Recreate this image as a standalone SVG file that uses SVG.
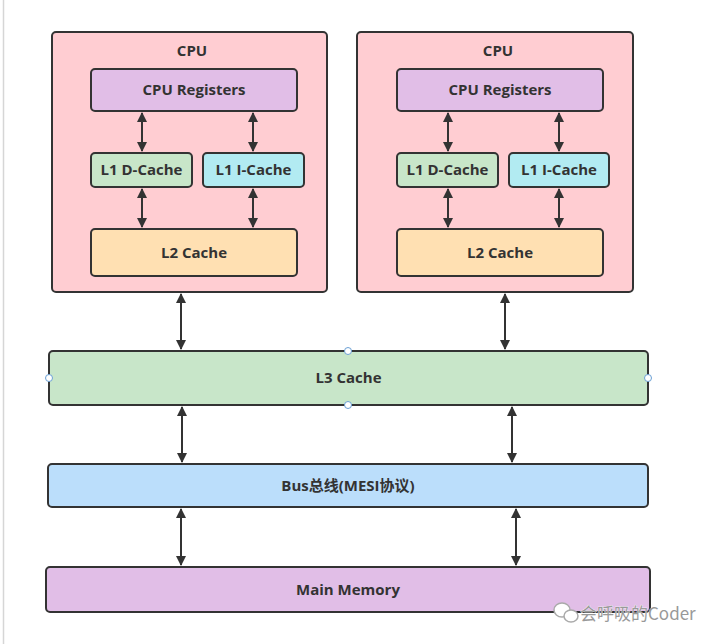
<svg xmlns="http://www.w3.org/2000/svg" width="716" height="644" viewBox="0 0 716 644">
<defs>
<marker id="ah" viewBox="0 0 10 10" refX="9" refY="5" markerWidth="5" markerHeight="5" orient="auto-start-reverse" markerUnits="strokeWidth">
<path d="M0,0 L10,5 L0,10 z" fill="#333"/>
</marker>
</defs>
<style>
.box{stroke:#333;stroke-width:2}
.t{font-family:"Open Sans","Noto Sans CJK SC",sans-serif;font-weight:bold;font-size:15px;fill:#333;text-anchor:middle;dominant-baseline:central}
.c{stroke:#333;stroke-width:2;fill:none;marker-start:url(#ah);marker-end:url(#ah)}
.h{fill:#fff;stroke:#6a9fd4;stroke-width:1}
</style>
<rect width="716" height="644" fill="#fff"/>
<line x1="3.5" y1="0" x2="3.5" y2="644" stroke="#d6d6d6" stroke-width="1.5"/>

<g id="cpu1">
<rect class="box" x="52" y="32" width="275" height="260" rx="4" fill="#ffcdd2"/>
<text class="t" x="192" y="50">CPU</text>
</g>
<g id="cpu1-registers">
<rect class="box" x="91" y="69" width="206" height="42" rx="4" fill="#e1bee7"/>
<text class="t" x="194" y="89">CPU Registers</text>
</g>
<g id="cpu1-l1d">
<rect class="box" x="91" y="153" width="101" height="34" rx="4" fill="#c8e6c9"/>
<text class="t" x="141.5" y="169">L1 D-Cache</text>
</g>
<g id="cpu1-l1i">
<rect class="box" x="203" y="153" width="101" height="34" rx="4" fill="#b2ebf2"/>
<text class="t" x="253.5" y="169">L1 I-Cache</text>
</g>
<g id="cpu1-l2">
<rect class="box" x="91" y="229" width="206" height="47" rx="4" fill="#ffe0b2"/>
<text class="t" x="194" y="252">L2 Cache</text>
</g>

<g id="cpu2">
<rect class="box" x="357" y="32" width="276" height="260" rx="4" fill="#ffcdd2"/>
<text class="t" x="498" y="50">CPU</text>
</g>
<g id="cpu2-registers">
<rect class="box" x="397" y="69" width="206" height="42" rx="4" fill="#e1bee7"/>
<text class="t" x="500" y="89">CPU Registers</text>
</g>
<g id="cpu2-l1d">
<rect class="box" x="397" y="153" width="101" height="34" rx="4" fill="#c8e6c9"/>
<text class="t" x="447.5" y="169">L1 D-Cache</text>
</g>
<g id="cpu2-l1i">
<rect class="box" x="509" y="153" width="100" height="34" rx="4" fill="#b2ebf2"/>
<text class="t" x="559" y="169">L1 I-Cache</text>
</g>
<g id="cpu2-l2">
<rect class="box" x="397" y="229" width="206" height="47" rx="4" fill="#ffe0b2"/>
<text class="t" x="500" y="252">L2 Cache</text>
</g>

<g id="l3">
<rect class="box" x="49" y="351" width="599" height="54" rx="4" fill="#c8e6c9"/>
<text class="t" x="348.5" y="377">L3 Cache</text>
<circle class="h" cx="348" cy="351" r="3.5"/>
<circle class="h" cx="348" cy="405" r="3.5"/>
<circle class="h" cx="49" cy="378" r="3.5"/>
<circle class="h" cx="648" cy="378" r="3.5"/>
</g>
<g id="bus">
<rect class="box" x="48" y="464" width="600" height="43" rx="4" fill="#bbdefb"/>
<text class="t" x="348" y="485">Bus总线(MESI协议)</text>
</g>
<g id="memory">
<rect class="box" x="46" y="567" width="604" height="45" rx="4" fill="#e1bee7"/>
<text class="t" x="348" y="589">Main Memory</text>
</g>

<g id="connectors">
<line class="c" x1="142" y1="113" x2="142" y2="151"/>
<line class="c" x1="253" y1="113" x2="253" y2="151"/>
<line class="c" x1="142" y1="189" x2="142" y2="227"/>
<line class="c" x1="253" y1="189" x2="253" y2="227"/>
<line class="c" x1="448" y1="113" x2="448" y2="151"/>
<line class="c" x1="559" y1="113" x2="559" y2="151"/>
<line class="c" x1="448" y1="189" x2="448" y2="227"/>
<line class="c" x1="559" y1="189" x2="559" y2="227"/>
<line class="c" x1="181" y1="294" x2="181" y2="349"/>
<line class="c" x1="505" y1="294" x2="505" y2="349"/>
<line class="c" x1="182" y1="407" x2="182" y2="462"/>
<line class="c" x1="512" y1="407" x2="512" y2="462"/>
<line class="c" x1="181" y1="509" x2="181" y2="565"/>
<line class="c" x1="516" y1="509" x2="516" y2="565"/>
</g>

<g id="watermark">
<ellipse cx="562" cy="610" rx="8" ry="7" fill="#fff" stroke="#aaa" stroke-width="1.5"/>
<ellipse cx="571" cy="616" rx="7" ry="6" fill="#fff" stroke="#aaa" stroke-width="1.5"/>
<text x="580" y="620" font-family="'Noto Sans CJK SC',sans-serif" font-size="17" fill="#999" stroke="#fff" stroke-width="0.6" paint-order="stroke">会呼吸的Coder</text>
</g>
</svg>
